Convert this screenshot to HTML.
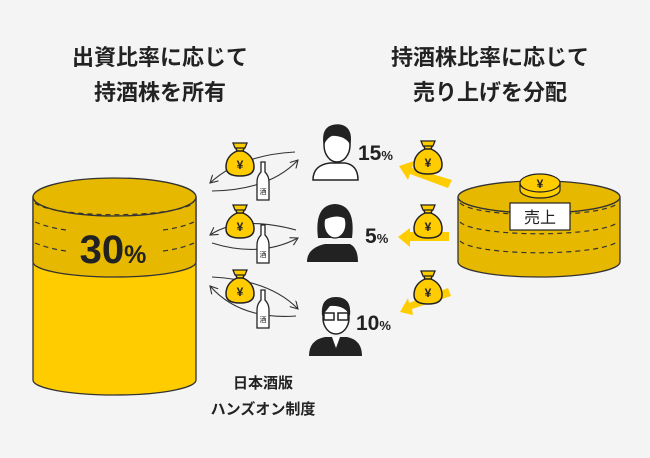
<!DOCTYPE html>
<html><head><meta charset="utf-8"><style>
body{margin:0;background:#f4f4f4;}
svg{display:block;font-family:"Liberation Sans","Noto Sans CJK JP",sans-serif;}
</style></head><body>
<svg width="650" height="458" viewBox="0 0 650 458">
<defs>
<g id="bag">
 <path d="M-5,-14 L5,-14 L3,-9 Q14,-4 14,7 Q14,16 0,16 Q-14,16 -14,7 Q-14,-4 -3,-9 Z" fill="#ffcc00" stroke="#222" stroke-width="1.5"/>
 <path d="M-7,-17 L7,-17 L5,-12 L-5,-12Z" fill="#ffcc00" stroke="#222" stroke-width="1.3"/>
 <line x1="-4" y1="-9" x2="4" y2="-9" stroke="#222" stroke-width="1.5"/>
 <text x="0" y="9" font-size="12" font-weight="bold" text-anchor="middle" fill="#222">¥</text>
</g>
<g id="bottle">
 <path d="M-2,-20 L2,-20 L2,-10 Q6,-6 6,0 L6,18 L-6,18 L-6,0 Q-6,-6 -2,-10Z" fill="#fff" stroke="#222" stroke-width="1.3"/>
 <text x="0" y="12" font-size="7" text-anchor="middle" fill="#222">酒</text>
</g>
<marker id="ah" markerWidth="8" markerHeight="8" refX="7" refY="4" orient="auto"><path d="M0,0 L7,4 L0,8" fill="none" stroke="#333" stroke-width="1"/></marker>
</defs>
<rect width="650" height="458" fill="#f4f4f4"/>
<g font-size="22" font-weight="bold" fill="#222" text-anchor="middle">
<text x="160" y="65">出資比率に応じて</text>
<text x="160" y="100">持酒株を所有</text>
<text x="490" y="65">持酒株比率に応じて</text>
<text x="490" y="100">売り上げを分配</text>
</g>
<path d="M33,197 L33,380 A81.5,15 0 0 0 196,380 L196,197Z" fill="#ffcc00" stroke="#333" stroke-width="1.3"/>
<path d="M33,197 L33,262 A81.5,15 0 0 0 196,262 L196,197Z" fill="#e6b800" stroke="#333" stroke-width="1.3"/>
<ellipse cx="114.5" cy="197" rx="81.5" ry="19" fill="#e6b800" stroke="#333" stroke-width="1.3"/>
<g fill="none" stroke="#333" stroke-width="1.2" stroke-dasharray="5,4">
<path d="M35,203 A81.5,15 0 0 0 194,203"/>
<path d="M35,222 Q50,228 66,230"/><path d="M163,230 Q180,228 194,222"/>
<path d="M35,243 Q50,249 66,251"/><path d="M163,251 Q180,249 194,243"/>
</g>
<text x="113" y="263" font-size="40" font-weight="bold" fill="#222" text-anchor="middle">30<tspan font-size="25">%</tspan></text>
<path d="M458,197 L458,262 A81,15 0 0 0 620,262 L620,197Z" fill="#e6b800" stroke="#333" stroke-width="1.3"/>
<ellipse cx="539" cy="197" rx="81" ry="16" fill="#e6b800" stroke="#333" stroke-width="1.3"/>
<g fill="none" stroke="#333" stroke-width="1.2" stroke-dasharray="5,4">
<path d="M460,203 A80,14 0 0 0 618,203"/>
<path d="M460,222 A80,14 0 0 0 618,222"/>
<path d="M460,241 A80,14 0 0 0 618,241"/>
</g>
<path d="M520,183 L520,190 A20,8 0 0 0 560,190 L560,183Z" fill="#ffcc00" stroke="#222" stroke-width="1.2"/>
<ellipse cx="540" cy="183" rx="20" ry="9" fill="#ffcc00" stroke="#222" stroke-width="1.2"/>
<text x="540" y="188" font-size="12" font-weight="bold" text-anchor="middle" fill="#222">¥</text>
<rect x="510" y="203" width="60" height="27" fill="#fff" stroke="#222" stroke-width="1.2"/>
<text x="540" y="223" font-size="16" text-anchor="middle" fill="#222">売上</text>
<g fill="#ffcc00">
<path d="M452,180 L448,188 L410,174 L408,180 L399,166 L414,161 L412,168Z"/>
<path d="M449,232 L449,241 L410,241 L410,247 L398,237 L410,228 L410,232Z"/>
<path d="M448,288 L451,296 L412,309 L413,315 L400,312 L408,298 L409,303Z"/>
</g>
<use href="#bag" x="428" y="158"/>
<use href="#bag" x="428" y="222"/>
<use href="#bag" x="428" y="288"/>
<g fill="none" stroke="#333" stroke-width="1.1" marker-end="url(#ah)">
<path d="M295,152 Q240,155 210,183"/>
<path d="M212,191 Q270,190 298,160"/>
<path d="M296,230 Q240,215 210,235"/>
<path d="M212,243 Q260,258 298,238"/>
<path d="M212,277 Q270,280 298,309"/>
<path d="M296,316 Q240,320 210,286"/>
</g>
<use href="#bag" x="240" y="160"/>
<use href="#bag" x="240" y="222"/>
<use href="#bag" x="240" y="287"/>
<use href="#bottle" x="263" y="182"/>
<use href="#bottle" x="263" y="245"/>
<use href="#bottle" x="263" y="310"/>
<g stroke="#222" stroke-width="1.5" fill="#fff">
<path d="M313,180 Q313,165 330,163 L345,163 Q358,165 358,180Z"/>
<ellipse cx="337" cy="145" rx="13" ry="17"/>
<path d="M324,143 Q322,125 338,125 Q352,126 350,143 Q345,135 332,135 Q327,137 324,143Z" fill="#222"/>
</g>
<g fill="#222">
<path d="M307,262 Q307,248 325,244 L350,244 Q358,248 358,262Z"/>
<path d="M318,238 Q314,205 335,204 Q356,205 352,238 Z"/>
<ellipse cx="335" cy="224" rx="11" ry="14" fill="#fff" stroke="#222" stroke-width="1.3"/>
<path d="M324,220 Q326,208 336,208 Q347,209 347,220 Q338,213 324,220Z"/>
</g>
<g>
<path d="M309,356 Q309,340 325,337 L347,337 Q362,340 362,356Z" fill="#222"/>
<path d="M332,337 L336,348 L340,337Z" fill="#fff"/>
<ellipse cx="336" cy="318" rx="13" ry="16" fill="#fff" stroke="#222" stroke-width="1.5"/>
<path d="M322,316 Q320,297 336,297 Q352,297 350,316 Q345,305 330,306Z" fill="#222"/>
<rect x="324" y="313" width="10" height="7" fill="none" stroke="#222" stroke-width="1.5"/>
<rect x="338" y="313" width="10" height="7" fill="none" stroke="#222" stroke-width="1.5"/>
</g>
<g font-weight="bold" fill="#222">
<text x="358" y="160" font-size="21">15<tspan font-size="13">%</tspan></text>
<text x="365" y="243" font-size="21">5<tspan font-size="13">%</tspan></text>
<text x="356" y="330" font-size="21">10<tspan font-size="13">%</tspan></text>
</g>
<g font-size="15" font-weight="bold" fill="#222" text-anchor="middle">
<text x="263" y="388">日本酒版</text>
<text x="263" y="414">ハンズオン制度</text>
</g>
</svg>
</body></html>
